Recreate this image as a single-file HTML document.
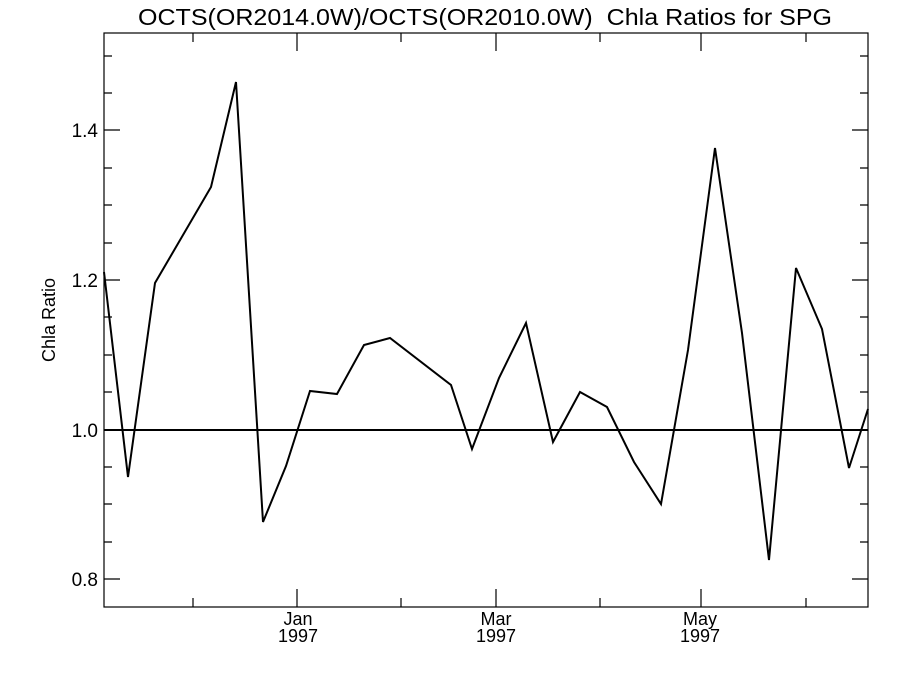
<!DOCTYPE html>
<html><head><meta charset="utf-8"><style>body{margin:0;background:#fff}svg{display:block}</style></head><body>
<svg width="900" height="675" viewBox="0 0 900 675" xmlns="http://www.w3.org/2000/svg" font-family="Liberation Sans, sans-serif">
<rect width="900" height="675" fill="#fff"/>
<text x="138" y="25" font-size="23" textLength="694" lengthAdjust="spacingAndGlyphs" xml:space="preserve">OCTS(OR2014.0W)/OCTS(OR2010.0W)  Chla Ratios for SPG</text>
<rect x="104" y="33" width="764" height="574" fill="none" stroke="#000" stroke-width="1.2"/>
<g stroke="#000" stroke-width="1.2">
<path d="M104 579h16M104 542h8M104 504h8M104 467h8M104 430h16M104 392h8M104 355h8M104 317h8M104 280h16M104 243h8M104 205h8M104 168h8M104 130h16M104 93h8M104 56h8"/>
<path d="M868 579h-16M868 542h-8M868 504h-8M868 467h-8M868 430h-16M868 392h-8M868 355h-8M868 317h-8M868 280h-16M868 243h-8M868 205h-8M868 168h-8M868 130h-16M868 93h-8M868 56h-8"/>
<path d="M193 607v-9M297 607v-18M401 607v-9M496 607v-18M600 607v-9M701 607v-18M806 607v-9"/>
<path d="M193 33v9M297 33v18M401 33v9M496 33v18M600 33v9M701 33v18M806 33v9"/>
</g>
<g font-size="19" text-anchor="end">
<text x="98" y="586">0.8</text><text x="98" y="437">1.0</text><text x="98" y="287">1.2</text><text x="98" y="137">1.4</text>
</g>
<g font-size="18" text-anchor="middle">
<text x="298" y="625">Jan</text><text x="298" y="642">1997</text>
<text x="496" y="625">Mar</text><text x="496" y="642">1997</text>
<text x="700" y="625">May</text><text x="700" y="642">1997</text>
</g>
<text transform="translate(55 320) rotate(-90)" font-size="18" text-anchor="middle">Chla Ratio</text>
<line x1="104" y1="430" x2="868" y2="430" stroke="#000" stroke-width="2"/>
<polyline fill="none" stroke="#000" stroke-width="2" stroke-linejoin="miter" points="104,272 128,477 155,283 211,187 236,82 263,522 286,466 310,391 337,394 364,345 390,338 451,385 472,449 499,378 526,323 553,442 580,392 607,407 634,462 661,504 688,350 715,148 742,333 769,560 796,268 822,329 849,468 868,409"/>
</svg>
</body></html>
